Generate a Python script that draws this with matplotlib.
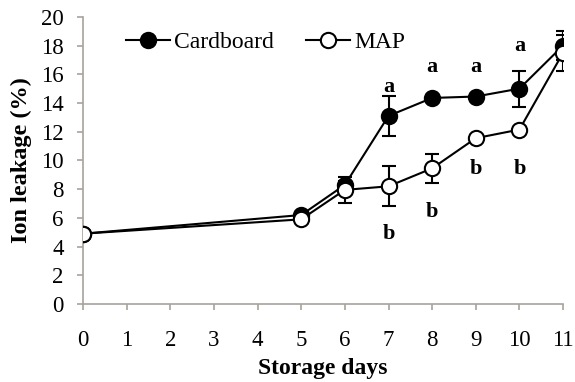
import matplotlib
matplotlib.use('Agg')
import matplotlib.pyplot as plt
from matplotlib.lines import Line2D

days = [0, 5, 6, 7, 8, 9, 10, 11]
cardboard = [4.9, 6.2, 8.3, 13.1, 14.35, 14.45, 15.0, 18.0]
cardboard_err = [0.0, 0.0, 0.3, 1.4, 0.0, 0.0, 1.25, 1.0]
map_vals = [4.9, 5.9, 7.95, 8.2, 9.45, 11.55, 12.15, 17.5]
map_err = [0.0, 0.0, 0.9, 1.4, 1.0, 0.0, 0.0, 1.25]

# significance letters: (day, y, letter)
letter_days = [7, 8, 9, 10, 7, 8, 9, 10]
letter_y = [15.1, 16.5, 16.5, 18.0, 4.9, 6.4, 9.4, 9.4]
letter_txt = ['a', 'a', 'a', 'a', 'b', 'b', 'b', 'b']

plt.rcParams['font.family'] = ['Liberation Serif', 'DejaVu Serif']

fig = plt.figure(figsize=(5.75, 3.82), dpi=100)
ax = fig.add_axes([0.1443, 0.204, 0.835, 0.752])

spine_col = '#a8a39b'

ax.errorbar(days, cardboard, yerr=cardboard_err, color='black', lw=1.5,
            marker='o', ms=11, mfc='black', mec='black', mew=1.5,
            capsize=5, elinewidth=1.5, capthick=1.5, zorder=3)
ax.errorbar(days, map_vals, yerr=map_err, color='black', lw=1.5,
            marker='o', ms=11, mfc='white', mec='black', mew=1.5,
            capsize=5, elinewidth=1.5, capthick=1.5, zorder=4)

for d, y, t in zip(letter_days, letter_y, letter_txt):
    ax.text(d, y, t, ha='center', va='center', fontsize=16, fontweight='bold')

ax.set_xlim(0, 11)
ax.set_ylim(0, 20)
ax.set_xticks(range(0, 12))
ax.set_yticks(range(0, 21, 2))
ax.tick_params(axis='both', labelsize=16.5, color=spine_col, length=4, width=1.2)
ax.tick_params(axis='x', pad=15)
ax.tick_params(axis='y', pad=10)

for s in ['top', 'right']:
    ax.spines[s].set_visible(False)
for s in ['left', 'bottom']:
    ax.spines[s].set_color(spine_col)
    ax.spines[s].set_linewidth(1.2)

ax.set_xlabel('Storage days', fontsize=17, fontweight='bold', labelpad=5)
ax.set_ylabel('Ion leakage (%)', fontsize=17.5, fontweight='bold', labelpad=6)

handles = [
    Line2D([], [], color='black', lw=1.5, marker='o', ms=11, mfc='black', mec='black', mew=1.5),
    Line2D([], [], color='black', lw=1.5, marker='o', ms=11, mfc='white', mec='black', mew=1.5),
]
ax.legend(handles, ['Cardboard', 'MAP'], loc='upper left', ncol=2, frameon=False,
          fontsize=17, bbox_to_anchor=(0.045, 1.022), handlelength=1.85,
          handletextpad=0.2, columnspacing=1.35)

fig.savefig('out.png', dpi=100)
